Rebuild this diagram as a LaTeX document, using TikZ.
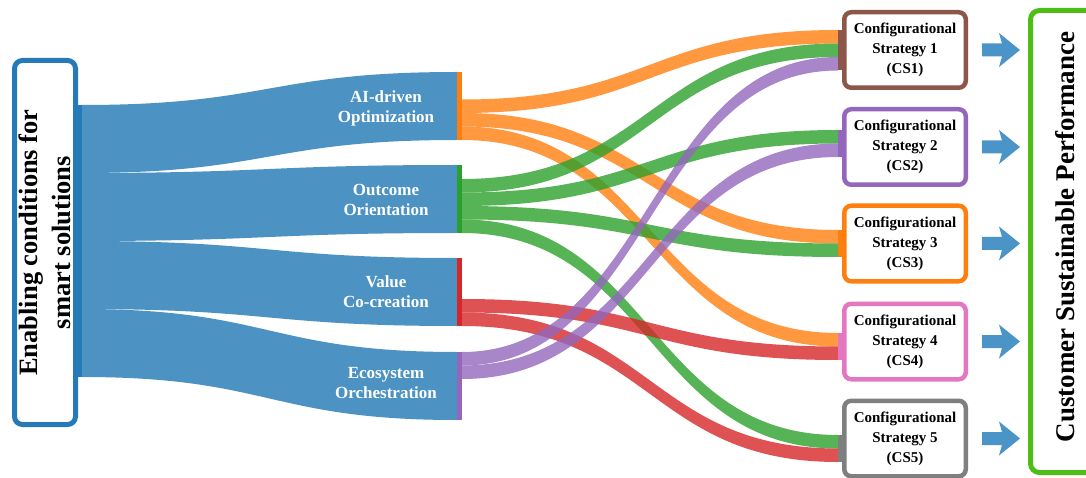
\documentclass[tikz,border=0pt]{standalone}
\usepackage{fontspec}
\setmainfont{Liberation Serif}
\definecolor{blueflow}{RGB}{76,146,195}
\definecolor{darkblue}{RGB}{38,122,184}
\definecolor{arrowblue}{RGB}{74,148,200}
\definecolor{cOrange}{RGB}{255,127,14}
\definecolor{cGreen}{RGB}{44,160,44}
\definecolor{cRed}{RGB}{214,39,40}
\definecolor{cPurple}{RGB}{148,103,189}
\definecolor{cBrown}{RGB}{140,86,75}
\definecolor{cPink}{RGB}{227,119,194}
\definecolor{cGray}{RGB}{127,127,127}
\definecolor{cLime}{RGB}{78,190,22}
% band: colour, x0, x1, top0, bot0, top1, bot1
\newcommand{\flowband}[7]{%
  \fill[#1] (#2,#4) .. controls ({(#2+#3)/2},#4) and ({(#2+#3)/2},#6) .. (#3,#6)
    -- (#3,#7) .. controls ({(#2+#3)/2},#7) and ({(#2+#3)/2},#5) .. (#2,#5) -- cycle;}
\begin{document}
\begin{tikzpicture}[x=1pt,y=-1pt,
  lbl/.style={text=white,align=center,font=\fontsize{17}{20}\selectfont\bfseries},
  csbox/.style={draw=#1,line width=4.5pt,rounded corners=7pt,fill=white,
    minimum width=121.5pt,minimum height=75.5pt,inner sep=0pt,align=center,
    font=\fontsize{15}{20}\selectfont\bfseries},
  link/.style={fill=#1,fill opacity=0.8},
  bluearrow/.pic={\fill[arrowblue] (-19,-6.5) -- (1,-6.5) -- (-2,-17) -- (19,0)
      -- (-2,17) -- (1,6.5) -- (-19,6.5) -- cycle;}]
\path[use as bounding box,clip] (0,0) rectangle (1086,478);
\fill[white] (0,0) rectangle (1086,478);

% blue flows from the enabling-conditions source
\flowband{blueflow}{82}{457}{105}{173}{72}{140}
\flowband{blueflow}{82}{457}{173}{241}{165}{233}
\flowband{blueflow}{82}{457}{241}{309}{258}{326}
\flowband{blueflow}{82}{457}{309}{377}{352}{420}

% left box
\node[draw=darkblue,line width=5pt,rounded corners=8pt,rotate=90,
  minimum width=364pt,minimum height=61pt,inner sep=0pt,align=center,
  font=\fontsize{26.5}{33}\selectfont\bfseries] (enab) at (45,242.5)
  {Enabling conditions for\\smart solutions};
\fill[darkblue] (76,105) rectangle (82,377);

% intermediate node bars
\fill[cOrange] (457,72) rectangle (462,140);
\fill[cGreen] (457,165) rectangle (462,233);
\fill[cRed] (457,258) rectangle (462,326);
\fill[cPurple] (457,352) rectangle (462,420);

\node[lbl] (ai) at (386,108) {AI-driven\\Optimization};
\node[lbl] (oo) at (386,200) {Outcome\\Orientation};
\node[lbl] (vc) at (386,292) {Value\\Co-creation};
\node[lbl] (eo) at (386,383) {Ecosystem\\Orchestration};

% links to configurational strategies
\flowband{link=cOrange}{462}{838}{99.5}{113}{30}{43.5}
\flowband{link=cOrange}{462}{838}{113}{126.5}{230}{243.5}
\flowband{link=cOrange}{462}{838}{126.5}{140}{333}{346.5}
\flowband{link=cGreen}{462}{838}{179}{192.5}{43.5}{57}
\flowband{link=cGreen}{462}{838}{192.5}{206}{130}{143.5}
\flowband{link=cGreen}{462}{838}{206}{219.5}{243.5}{257}
\flowband{link=cGreen}{462}{838}{219.5}{233}{435}{448.5}
\flowband{link=cRed}{462}{838}{299}{312.5}{346.5}{360}
\flowband{link=cRed}{462}{838}{312.5}{326}{448.5}{462}
\flowband{link=cPurple}{462}{838}{352}{365.5}{57}{70.5}
\flowband{link=cPurple}{462}{838}{365.5}{379}{143.5}{157}

% target bars
\fill[cBrown] (838,30) rectangle (843,70.5);
\fill[cPurple] (838,130) rectangle (843,157);
\fill[cOrange] (838,230) rectangle (843,257);
\fill[cPink] (838,333) rectangle (843,360);
\fill[cGray] (838,435) rectangle (843,462);

% strategy boxes
\node[csbox=cBrown] (cs1) at (905,50) {Configurational\\Strategy 1\\(CS1)};
\node[csbox=cPurple] (cs2) at (905,147) {Configurational\\Strategy 2\\(CS2)};
\node[csbox=cOrange] (cs3) at (905,243.5) {Configurational\\Strategy 3\\(CS3)};
\node[csbox=cPink] (cs4) at (905,341.5) {Configurational\\Strategy 4\\(CS4)};
\node[csbox=cGray] (cs5) at (905,438.5) {Configurational\\Strategy 5\\(CS5)};

% arrows
\foreach \c in {cs1,cs2,cs3,cs4,cs5}
  \path (\c.center) ++(96,0) pic {bluearrow};

% outcome box
\draw[cLime,line width=5pt,rounded corners=9pt] (1030.5,10.5) rectangle (1120,472.5);
\node[rotate=90,font=\fontsize{27}{30}\selectfont\bfseries] (csp) at (1065,237)
  {Customer Sustainable Performance};
\end{tikzpicture}
\end{document}
